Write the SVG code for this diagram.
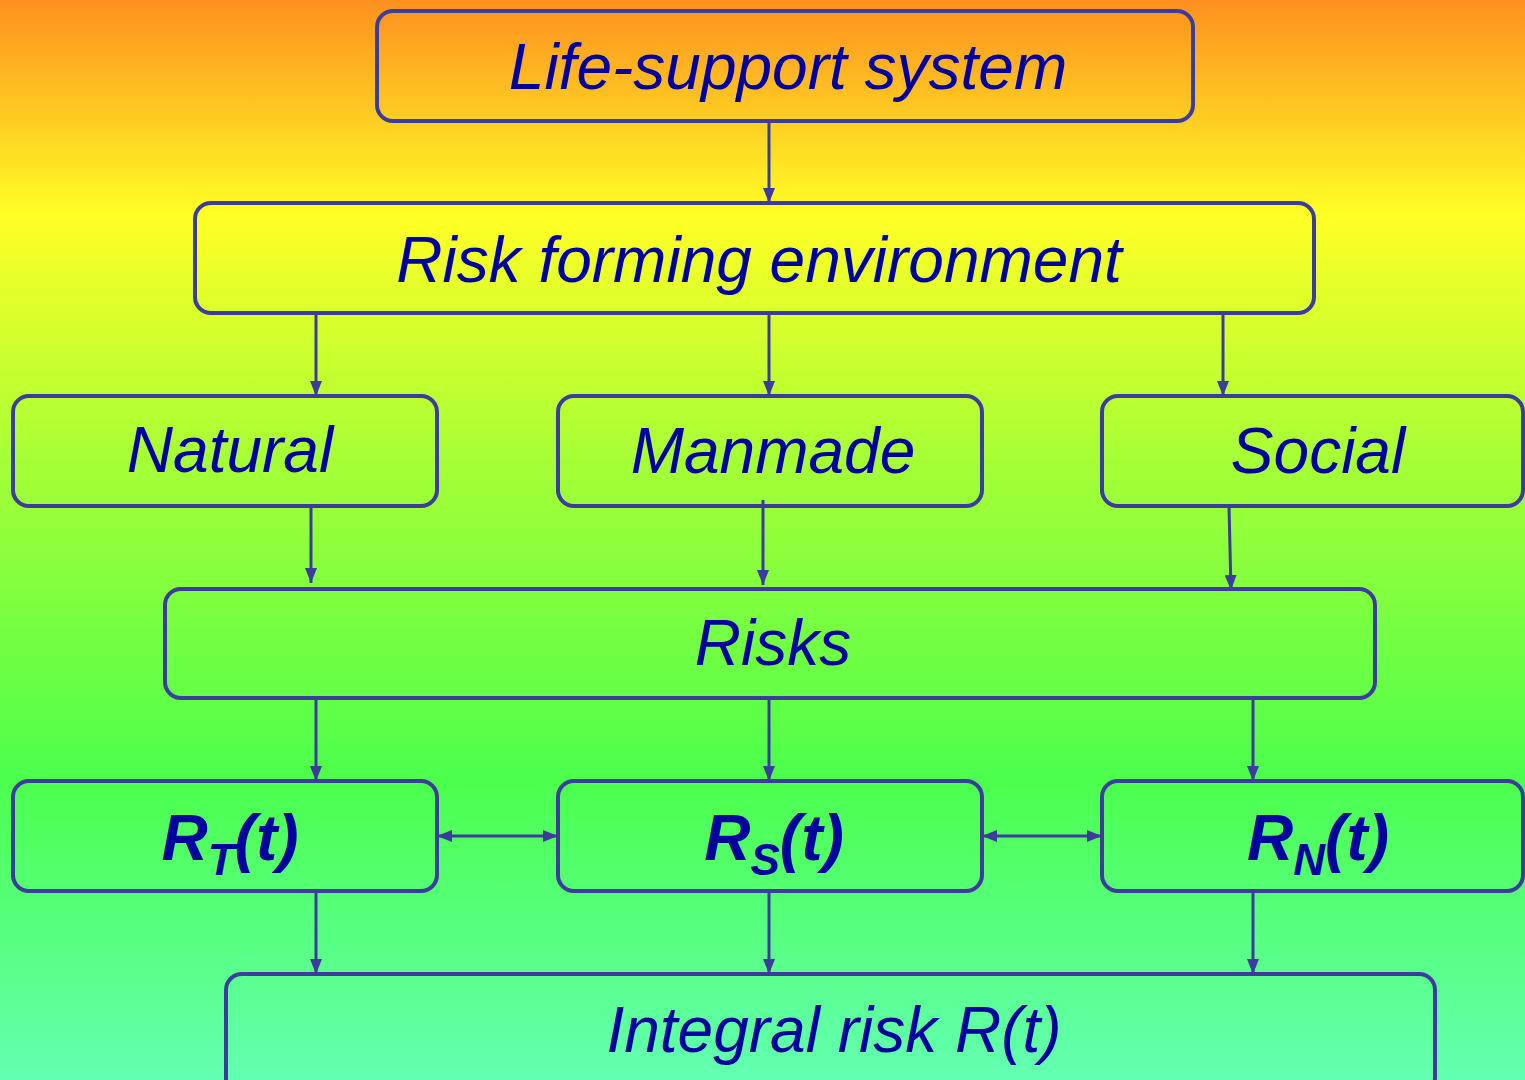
<svg xmlns="http://www.w3.org/2000/svg" width="1525" height="1080" viewBox="0 0 1525 1080">
<defs>
<linearGradient id="bg" x1="0" y1="0" x2="0" y2="1">
<stop offset="0" stop-color="#FF9020"/>
<stop offset="0.2" stop-color="#FFFF25"/>
<stop offset="0.42" stop-color="#A8FF35"/>
<stop offset="0.72" stop-color="#4CFF4C"/>
<stop offset="1" stop-color="#62FFB2"/>
</linearGradient>
<marker id="ah" viewBox="0 0 15 12" refX="15" refY="6" markerWidth="15" markerHeight="12" markerUnits="userSpaceOnUse" orient="auto-start-reverse">
<path d="M0,0 L15,6 L0,12 Z" fill="#3C3C9C"/>
</marker>
<style>
.box{fill:none;stroke:#3C3C9C;stroke-width:4}
.t{font-family:"Liberation Sans",Arial,sans-serif;font-style:italic;font-size:64px;fill:#00009C;text-anchor:middle}
.b{font-weight:bold}
.c{stroke:#3C3C9C;stroke-width:3;fill:none;marker-end:url(#ah)}
.d{marker-start:url(#ah)}
</style>
</defs>
<rect width="1525" height="1080" fill="url(#bg)"/>
<g id="connectors">
<line class="c" x1="769" y1="121" x2="769" y2="203"/>
<line class="c" x1="316" y1="313" x2="316" y2="396"/>
<line class="c" x1="769" y1="313" x2="769" y2="396"/>
<line class="c" x1="1223" y1="313" x2="1223" y2="396"/>
<line class="c" x1="311" y1="506" x2="311" y2="583"/>
<line class="c" x1="763" y1="500" x2="763" y2="585"/>
<line class="c" x1="1229" y1="506" x2="1231" y2="590"/>
<line class="c" x1="316" y1="698" x2="316" y2="781"/>
<line class="c" x1="769" y1="698" x2="769" y2="781"/>
<line class="c" x1="1253" y1="698" x2="1253" y2="781"/>
<line class="c d" x1="437" y1="836" x2="558" y2="836"/>
<line class="c d" x1="982" y1="836" x2="1102" y2="836"/>
<line class="c" x1="316" y1="891" x2="316" y2="974"/>
<line class="c" x1="769" y1="891" x2="769" y2="974"/>
<line class="c" x1="1253" y1="891" x2="1253" y2="974"/>
</g>
<g id="life">
<rect class="box" x="377" y="11" width="816" height="110" rx="16"/>
<text class="t" x="788" y="89">Life-support system</text>
</g>
<g id="riskenv">
<rect class="box" x="195" y="203" width="1119" height="110" rx="16"/>
<text class="t" x="759" y="282">Risk forming environment</text>
</g>
<g id="natural">
<rect class="box" x="13" y="396" width="424" height="110" rx="16"/>
<text class="t" x="230" y="472">Natural</text>
</g>
<g id="manmade">
<rect class="box" x="558" y="396" width="424" height="110" rx="16"/>
<text class="t" x="773" y="473">Manmade</text>
</g>
<g id="social">
<rect class="box" x="1102" y="396" width="421" height="110" rx="16"/>
<text class="t" x="1318" y="473">Social</text>
</g>
<g id="risks">
<rect class="box" x="165" y="589" width="1210" height="109" rx="16"/>
<text class="t" x="773" y="665">Risks</text>
</g>
<g id="rt">
<rect class="box" x="13" y="781" width="424" height="110" rx="16"/>
<text class="t b" x="230" y="860">R<tspan font-size="44" dy="15">T</tspan><tspan dy="-15">(t)</tspan></text>
</g>
<g id="rs">
<rect class="box" x="558" y="781" width="424" height="110" rx="16"/>
<text class="t b" x="774" y="860">R<tspan font-size="44" dy="15">S</tspan><tspan dy="-15">(t)</tspan></text>
</g>
<g id="rn">
<rect class="box" x="1102" y="781" width="421" height="110" rx="16"/>
<text class="t b" x="1318" y="860">R<tspan font-size="44" dy="15">N</tspan><tspan dy="-15">(t)</tspan></text>
</g>
<g id="integral">
<rect class="box" x="226" y="974" width="1209" height="120" rx="16"/>
<text class="t" x="834" y="1052">Integral risk R(t)</text>
</g>
</svg>
